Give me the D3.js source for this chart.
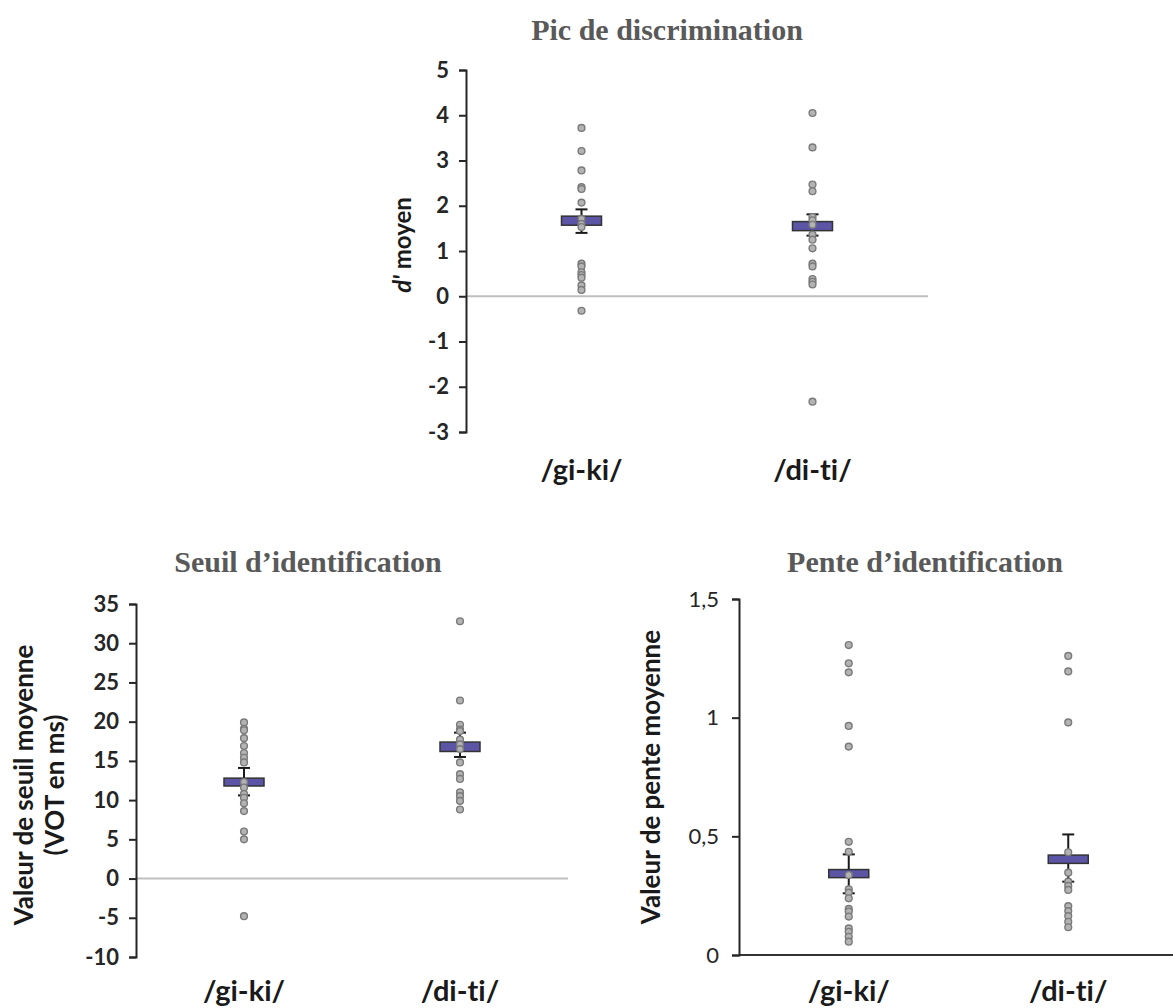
<!DOCTYPE html>
<html><head><meta charset="utf-8">
<script src="https://cdn.jsdelivr.net/npm/d3@7"></script>
<style>body{margin:0;background:#fff}svg{display:block}text{font-variant-ligatures:none;font-feature-settings:"liga" 0,"clig" 0}</style>
</head><body>
<script>
// ---------- DATA ----------
const categories = ["/gi-ki/", "/di-ti/"];

// Pic de discrimination (d' moyen)
const picGiki = [3.72, 3.21, 2.78, 2.41, 2.37, 2.07, 1.71, 1.60, 1.53, 0.72, 0.66, 0.53, 0.47, 0.41, 0.24, 0.14, -0.32];
const picDiti = [4.05, 3.29, 2.47, 2.32, 1.75, 1.68, 1.58, 1.36, 1.25, 1.06, 0.72, 0.66, 0.38, 0.32, 0.26, -2.33];
const picBox = [[1.57, 1.77], [1.45, 1.65]];
const picErr = [[1.40, 1.92], [1.34, 1.81]];
const picTicks = [-3, -2, -1, 0, 1, 2, 3, 4, 5];

// Seuil d'identification
const seuilGiki = [19.9, 19.1, 18.9, 17.9, 16.9, 16.0, 15.4, 14.8, 12.3, 11.6, 10.8, 10.3, 9.6, 8.6, 6.0, 5.0, -4.8];
const seuilDiti = [32.8, 22.7, 19.6, 19.0, 18.8, 17.7, 17.1, 16.5, 14.8, 13.3, 12.7, 11.0, 10.5, 9.9, 8.8];
const seuilBox = [[11.8, 12.8], [16.2, 17.4]];
const seuilErr = [[10.6, 14.1], [15.5, 18.6]];
const seuilTicks = [-10, -5, 0, 5, 10, 15, 20, 25, 30, 35];

// Pente d'identification
const penteGiki = [1.306, 1.229, 1.191, 0.965, 0.878, 0.477, 0.435, 0.337, 0.277, 0.263, 0.239, 0.194, 0.183, 0.162, 0.112, 0.098, 0.077, 0.056];
const penteDiti = [1.26, 1.195, 0.98, 0.433, 0.347, 0.309, 0.291, 0.274, 0.206, 0.185, 0.164, 0.140, 0.117];
const penteBox = [[0.326, 0.360], [0.386, 0.421]];
const penteErr = [[0.26, 0.424], [0.309, 0.508]];
const penteTicks = [0, 0.5, 1, 1.5];
const penteTickLabels = ["0", "0,5", "1", "1,5"];

// ---------- DRAW ----------
const W = 1173, H = 1008;
const svg = d3.select("body").append("svg").attr("width", W).attr("height", H);
const SANS = "Lato, 'Open Sans', sans-serif";
const SERIF = "'Liberation Serif', 'Times New Roman', serif";

function panel(o) {
  const g = svg.append("g");
  const x = d3.scalePoint().domain(categories).range([o.x0, o.x1]).padding(0.5);
  const y = d3.scaleLinear().domain(o.domain).range([o.y0, o.y1]);

  // title
  g.append("text").attr("x", o.titleX).attr("y", o.titleY)
    .attr("text-anchor", "middle").attr("font-family", SERIF).attr("font-weight", "bold")
    .attr("font-size", 30).attr("fill", "#595959").text(o.title);

  // baseline at zero
  g.append("line").attr("x1", o.x0).attr("x2", o.x1).attr("y1", y(0)).attr("y2", y(0))
    .attr("stroke", o.domain[0] < 0 ? "#bfbfbf" : "#333").attr("stroke-width", 2);

  // y axis
  const ax = d3.axisLeft(y).tickValues(o.ticks).tickSize(7).tickPadding(o.pad)
    .tickFormat((d, i) => o.tickLabels ? o.tickLabels[i] : String(d));
  const ag = g.append("g").attr("transform", `translate(${o.x0},0)`).call(ax);
  ag.select(".domain").attr("stroke", "#262626").attr("stroke-width", 2);
  ag.selectAll(".tick line").attr("stroke", "#262626").attr("stroke-width", 2);
  ag.selectAll(".tick text").attr("font-family", SANS).attr("font-size", o.tickSize)
    .attr("font-weight", o.tickBold ? "bold" : "normal").attr("fill", "#262626");

  // category labels
  g.selectAll(".cat").data(categories).join("text")
    .attr("x", d => x(d)).attr("y", o.catY).attr("text-anchor", "middle")
    .attr("font-family", SANS).attr("font-weight", "bold").attr("font-size", 29)
    .attr("fill", "#1a1a1a").text(d => d);

  // y label
  o.ylabel(g);

  const bw = 40, cap = 6;
  categories.forEach((c, i) => {
    const cx = x(c);
    const [el, eh] = o.err[i];
    g.append("line").attr("x1", cx).attr("x2", cx).attr("y1", y(el)).attr("y2", y(eh))
      .attr("stroke", "#1a1a1a").attr("stroke-width", 2);
    [el, eh].forEach(v => g.append("line").attr("x1", cx - cap).attr("x2", cx + cap)
      .attr("y1", y(v)).attr("y2", y(v)).attr("stroke", "#1a1a1a").attr("stroke-width", 2));
    const [bl, bh] = o.box[i];
    g.append("rect").attr("x", cx - bw / 2).attr("width", bw)
      .attr("y", y(bh)).attr("height", y(bl) - y(bh))
      .attr("fill", "#5c55a6").attr("stroke", "#333").attr("stroke-width", 1.5);
    g.selectAll(null).data(o.pts[i]).join("circle")
      .attr("cx", cx).attr("cy", d => y(d)).attr("r", 3.4)
      .attr("fill", "#b3b3b3").attr("stroke", "#7a7a7a").attr("stroke-width", 1.4);
  });
}

function rotLabel(g, tx, ty, size, parts) {
  const t = g.append("text").attr("transform", `translate(${tx},${ty}) rotate(-90)`)
    .attr("text-anchor", "middle").attr("font-family", SANS).attr("font-weight", "bold")
    .attr("font-size", size).attr("fill", "#1a1a1a");
  parts.forEach(p => t.append("tspan").attr("font-style", p.italic ? "italic" : "normal").text(p.t));
}

panel({
  title: "Pic de discrimination", titleX: 667, titleY: 40,
  x0: 466, x1: 928, y0: 432, y1: 70, domain: [-3, 5], ticks: picTicks, pad: 10,
  tickSize: 22, tickBold: true, catY: 480,
  pts: [picGiki, picDiti], box: picBox, err: picErr,
  ylabel: g => rotLabel(g, 411, 245, 24, [{t: "d'", italic: true}, {t: " moyen"}])
});

panel({
  title: "Seuil d\u2019identification", titleX: 308, titleY: 572,
  x0: 136, x1: 568, y0: 957, y1: 604, domain: [-10, 35], ticks: seuilTicks, pad: 10,
  tickSize: 22, tickBold: true, catY: 1001,
  pts: [seuilGiki, seuilDiti], box: seuilBox, err: seuilErr,
  ylabel: g => {
    rotLabel(g, 33, 785, 26, [{t: "Valeur de seuil moyenne"}]);
    rotLabel(g, 64, 785, 26, [{t: "(VOT en ms)"}]);
  }
});

panel({
  title: "Pente d\u2019identification", titleX: 925, titleY: 572,
  x0: 739, x1: 1178, y0: 955, y1: 599, domain: [0, 1.5], ticks: penteTicks, tickLabels: penteTickLabels, pad: 13,
  tickSize: 22, tickBold: false, catY: 1001,
  pts: [penteGiki, penteDiti], box: penteBox, err: penteErr,
  ylabel: g => rotLabel(g, 660, 777, 26, [{t: "Valeur de pente moyenne"}])
});
</script>
</body></html>
